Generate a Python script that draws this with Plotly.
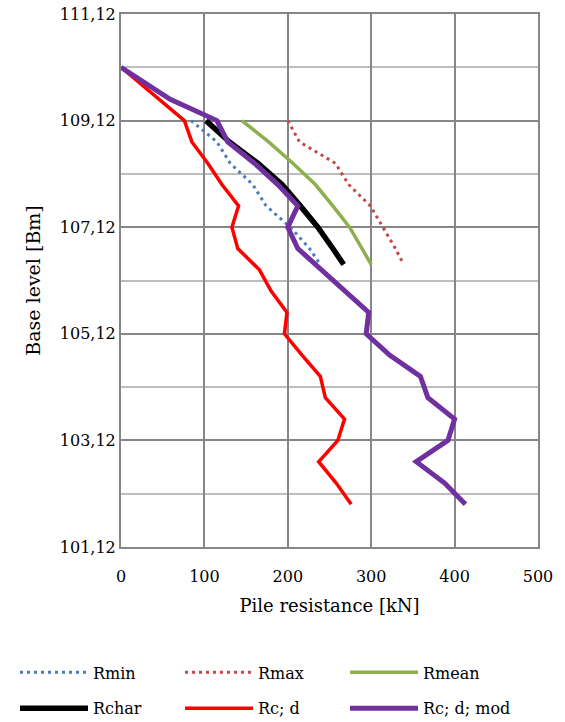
import plotly.graph_objects as go

# Levels [Bm] for the statistical resistance curves
upper_levels = [109.12, 108.72, 108.32, 107.92, 107.52, 107.12, 106.72, 106.42]
r_min = [84, 115, 131, 158, 174, 203, 226, 239]
r_max = [200, 214, 257, 273, 299, 314, 329, 339]
r_mean = [145, 177, 206, 233, 254, 274, 289, 300]
r_char = [102, 130, 164, 193, 215, 236, 254, 267]

# Levels [Bm] for the design resistance curves
design_levels = [110.12, 109.52, 109.12, 108.72, 108.32, 107.92, 107.52, 107.12,
                 106.72, 106.32, 105.92, 105.52, 105.12, 104.72, 104.32, 103.92,
                 103.52, 103.12, 102.72, 102.32, 101.92]
rc_d = [0, 45, 76, 85, 104, 121, 141, 133, 140, 166, 180, 199, 196, 217, 239,
        245, 268, 260, 237, 258, 276]
rc_d_mod = [0, 59, 115, 128, 160, 188, 212, 200, 212, 241, 269, 297, 294, 322,
            359, 368, 400, 392, 354, 388, 413]

y_ticks = [101.12, 103.12, 105.12, 107.12, 109.12, 111.12]
y_tick_text = ["101,12", "103,12", "105,12", "107,12", "109,12", "111,12"]
y_minor = [102.12, 104.12, 106.12, 108.12, 110.12]
x_ticks = [0, 100, 200, 300, 400, 500]

FONT = "DejaVu Serif"
DARK = "#868686"
LIGHT = "#BDBDBD"

fig = go.Figure()

# (name, x values, levels, line style, legend column)
series = [
    ("Rmin", r_min, upper_levels, dict(color="#4A7EBB", width=3, dash="3px,4px"), "legend"),
    ("Rchar", r_char, upper_levels, dict(color="#000000", width=5.5), "legend"),
    ("Rmax", r_max, upper_levels, dict(color="#BE4B48", width=3, dash="3px,4px"), "legend2"),
    ("Rc; d", rc_d, design_levels, dict(color="#FF0000", width=3.5), "legend2"),
    ("Rmean", r_mean, upper_levels, dict(color="#8DB04F", width=3.5), "legend3"),
    ("Rc; d; mod", rc_d_mod, design_levels, dict(color="#7030A0", width=5), "legend3"),
]
for name, xs, ys, line, leg in series:
    fig.add_trace(go.Scatter(x=xs, y=ys, mode="lines", name=name,
                             legendgroup=name, legend=leg,
                             line=dict(shape="linear", **line)))

legend_common = dict(
    orientation="v", xanchor="left", yanchor="top", y=-0.2035,
    tracegroupgap=12, itemwidth=68,
    font=dict(family=FONT, size=16, color="black"),
    bgcolor="rgba(0,0,0,0)",
)

fig.update_layout(
    width=565, height=722,
    margin=dict(l=121, r=27, t=14, b=175, autoexpand=False),
    paper_bgcolor="white", plot_bgcolor="white",
    font=dict(family=FONT, size=16, color="black"),
    legend=dict(x=-0.2542, **legend_common),
    legend2=dict(x=0.1415, **legend_common),
    legend3=dict(x=0.5372, **legend_common),
    xaxis=dict(
        range=[0, 500], tickvals=x_ticks, ticks="", ticklabelstandoff=14,
        showgrid=True, gridcolor=DARK, gridwidth=2,
        showline=True, linecolor=DARK, linewidth=2, mirror=True,
        zeroline=False,
        title=dict(text="Pile resistance [kN]", font=dict(family=FONT, size=18), standoff=14),
        tickfont=dict(family=FONT, size=16),
    ),
    yaxis=dict(
        range=[101.12, 111.12], tickvals=y_ticks, ticktext=y_tick_text, ticks="",
        showgrid=True, gridcolor=DARK, gridwidth=2,
        minor=dict(tickmode="array", tickvals=y_minor, showgrid=True,
                   gridcolor=LIGHT, gridwidth=2, ticks=""),
        showline=True, linecolor=DARK, linewidth=2, mirror=True,
        zeroline=False,
        title=dict(text="Base level [Bm]", font=dict(family=FONT, size=19), standoff=14),
        tickfont=dict(family=FONT, size=16),
    ),
)

fig.write_html("out.html")
